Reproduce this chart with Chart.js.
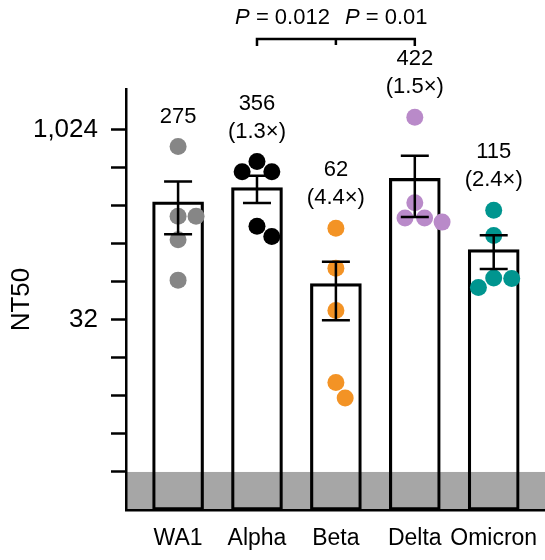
<!DOCTYPE html>
<html>
<head>
<meta charset="utf-8">
<script src="https://cdn.jsdelivr.net/npm/chart.js@4.4.0/dist/chart.umd.min.js"></script>
<style>
  html, body { margin: 0; padding: 0; background: #fff; }
  #wrap { width: 545px; height: 560px; }
</style>
</head>
<body>
<div id="wrap"><canvas id="nt50Chart"></canvas></div>
<script>
// NT50 per variant, log2 axis, bars = mean, whiskers = SEM

var variants = ['WA1', 'Alpha', 'Beta', 'Delta', 'Omicron'];
var meanNT50 = [275, 356, 62, 422, 115];
var wa1Pts = [754, 211, 211, 138, 66];
var alphaPts = [573, 476, 476, 176, 146];
var betaPts = [170, 82, 38, 10.2, 7.7];
var deltaPts = [1283, 270, 205, 205, 190];
var omicronPts = [236, 149, 68.6, 68, 57.7];
var yTicks = [2, 4, 8, 16, 32, 64, 128, 256, 512, 1024];
var yLabelled = [32, 1024];
var detectionLimit = 2;
var pValues = ['0.012', '0.01'];
var compared = [1, 2, 3];
var dotColors = ['#868686', '#000000', '#F39325', '#B98AC9', '#00958F'];

var FONT = "'Liberation Sans', Arial, Helvetica, sans-serif";
var groups = [wa1Pts, alphaPts, betaPts, deltaPts, omicronPts];

function sem(arr) {
  var m = arr.reduce(function (a, b) { return a + b; }, 0) / arr.length;
  var ss = arr.reduce(function (a, b) { return a + (b - m) * (b - m); }, 0);
  return Math.sqrt(ss / (arr.length - 1)) / Math.sqrt(arr.length);
}
var semNT50 = groups.map(sem);

function foldLabel(i) {
  var r = meanNT50[0] / meanNT50[i];
  if (r < 1) r = 1 / r;
  return '(' + r.toFixed(1) + '\u00d7)';
}

// simple beeswarm in pixel space, d = dot spacing
function swarm(ys, d) {
  var placed = [];
  return ys.map(function (y) {
    var cands = [0];
    placed.forEach(function (p) {
      var dy = Math.abs(p.y - y);
      if (dy < d) {
        var dx = Math.sqrt(d * d - dy * dy);
        cands.push(p.x - dx, p.x + dx);
      }
    });
    var ok = cands.filter(function (x) {
      return placed.every(function (p) { return Math.hypot(p.x - x, p.y - y) >= d - 0.01; });
    });
    ok.sort(function (a, b) { return Math.abs(a) - Math.abs(b) || b - a; });
    var x = ok.length ? ok[0] : d * placed.length;
    placed.push({ x: x, y: y });
    return x;
  });
}

var lodBand = {
  id: 'lodBand',
  beforeDraw: function (chart) {
    var ctx = chart.ctx, a = chart.chartArea;
    var top = chart.scales.y.getPixelForValue(detectionLimit);
    ctx.save();
    ctx.fillStyle = '#a6a6a6';
    ctx.fillRect(a.left, top, a.right - a.left, a.bottom - top);
    ctx.restore();
  }
};

var extras = {
  id: 'extras',
  afterDatasetsDraw: function (chart) {
    var ctx = chart.ctx, xs = chart.scales.x, ys = chart.scales.y;
    var a = chart.chartArea;
    ctx.save();
    ctx.strokeStyle = '#000';
    ctx.lineWidth = 2.5;
    ctx.lineCap = 'butt';

    // SEM whiskers
    meanNT50.forEach(function (m, i) {
      var x = xs.getPixelForValue(i);
      var hi = ys.getPixelForValue(m + semNT50[i]);
      var lo = ys.getPixelForValue(m - semNT50[i]);
      ctx.beginPath();
      ctx.moveTo(x, hi); ctx.lineTo(x, lo);
      ctx.moveTo(x - 14, hi); ctx.lineTo(x + 14, hi);
      ctx.moveTo(x - 14, lo); ctx.lineTo(x + 14, lo);
      ctx.stroke();
    });

    // value + fold labels
    ctx.fillStyle = '#000';
    ctx.font = '22px ' + FONT;
    ctx.textAlign = 'center';
    ctx.textBaseline = 'middle';
    groups.forEach(function (pts, i) {
      var x = xs.getPixelForValue(i);
      var top = ys.getPixelForValue(Math.max.apply(null, pts));
      var lines = [String(meanNT50[i])];
      if (i > 0) lines.push(foldLabel(i));
      lines.forEach(function (t, k) {
        ctx.fillText(t, x, top - 30 - (lines.length - 1 - k) * 28);
      });
    });

    // bracket
    var x0 = xs.getPixelForValue(compared[0]);
    var xm = xs.getPixelForValue(compared[1]);
    var x1 = xs.getPixelForValue(compared[2]);
    var by = a.top - 50;
    ctx.beginPath();
    ctx.moveTo(x0, by + 7); ctx.lineTo(x0, by); ctx.lineTo(x1, by); ctx.lineTo(x1, by + 7);
    ctx.moveTo(xm, by); ctx.lineTo(xm, by + 6);
    ctx.stroke();

    var ty = a.top - 71;
    var italic = 'italic 22px ' + FONT, plain = '22px ' + FONT;
    ctx.textAlign = 'left';
    ctx.font = plain;
    var rest0 = ' = ' + pValues[0];
    var w0 = ctx.measureText(rest0).width;
    ctx.font = italic;
    var wp = ctx.measureText('P').width;
    var sx = xm - 6 - w0 - wp;
    ctx.fillText('P', sx, ty);
    ctx.font = plain;
    ctx.fillText(rest0, sx + wp, ty);
    sx = xm + 9;
    ctx.font = italic;
    ctx.fillText('P', sx, ty);
    ctx.font = plain;
    ctx.fillText(' = ' + pValues[1], sx + wp, ty);

    ctx.restore();
  }
};

var datasets = [{
  type: 'bar',
  data: meanNT50.map(function (v, i) { return { x: i, y: v }; }),
  backgroundColor: 'rgba(0,0,0,0)',
  borderColor: '#000',
  borderWidth: 2.5,
  borderSkipped: false,
  barThickness: 51,
  order: 2
}];
groups.forEach(function (pts, i) {
  datasets.push({
    type: 'scatter',
    data: pts.map(function (v) { return { x: i, y: v }; }),
    backgroundColor: dotColors[i],
    pointRadius: 8.5,
    pointBorderWidth: 0,
    order: 1
  });
});

var chart = new Chart(document.getElementById('nt50Chart'), {
  type: 'bar',
  data: { datasets: datasets },
  plugins: [lodBand, extras],
  options: {
    responsive: true,
    maintainAspectRatio: false,
    animation: false,
    layout: { autoPadding: false, padding: { top: 89, left: 0, right: 0, bottom: 0 } },
    plugins: { legend: { display: false }, tooltip: { enabled: false } },
    scales: {
      x: {
        type: 'linear',
        offset: false,
        min: -0.66,
        max: 4.65,
        afterBuildTicks: function (s) {
          s.ticks = variants.map(function (v, i) { return { value: i }; });
        },
        afterFit: function (s) { s.height = 50; s.paddingLeft = 0; s.paddingRight = 0; },
        grid: { display: false, drawTicks: false, offset: false },
        border: { display: true, color: '#000', width: 2.5 },
        ticks: {
          color: '#000',
          font: { size: 23, family: FONT },
          padding: 15,
          autoSkip: false,
          maxRotation: 0,
          callback: function (v) { return variants[v]; }
        }
      },
      y: {
        type: 'logarithmic',
        min: 1,
        max: 2150,
        afterBuildTicks: function (s) {
          s.ticks = yTicks.map(function (v) { return { value: v }; });
        },
        afterFit: function (s) { s.width = 126; },
        grid: { drawOnChartArea: false, drawTicks: true, tickLength: 15, tickWidth: 2.5, tickColor: '#000' },
        border: { display: true, color: '#000', width: 2.5 },
        ticks: {
          color: '#000',
          font: { size: 26, family: FONT },
          padding: 13,
          autoSkip: false,
          callback: function (v) {
            return yLabelled.indexOf(v) >= 0 ? v.toLocaleString('en-US') : '';
          }
        },
        title: {
          display: true,
          text: 'NT50',
          color: '#000',
          font: { size: 26, family: FONT },
          padding: { top: 6, bottom: 0 }
        }
      }
    }
  }
});

// spread the dots once the scales are known
var xs = chart.scales.x, ys = chart.scales.y;
var unit = xs.getPixelForValue(1) - xs.getPixelForValue(0);
groups.forEach(function (pts, i) {
  var off = swarm(pts.map(function (v) { return ys.getPixelForValue(v); }), 18);
  chart.data.datasets[i + 1].data = pts.map(function (v, k) { return { x: i + off[k] / unit, y: v }; });
});
chart.update('none');
</script>
</body>
</html>
